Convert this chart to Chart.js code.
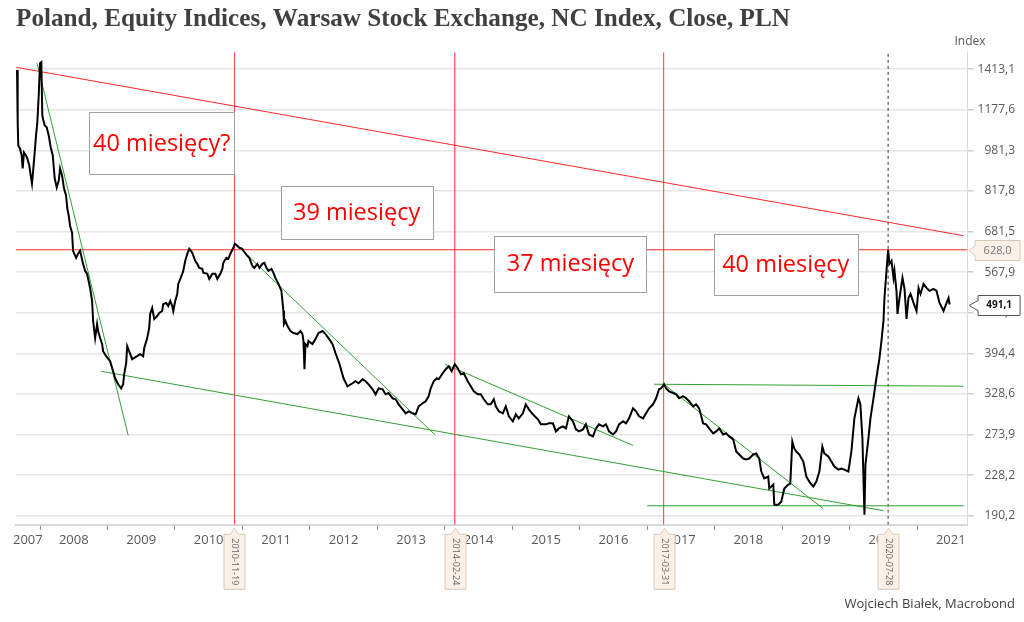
<html>
<head>
<meta charset="utf-8">
<style>
    body { margin: 0; background: #fff; }
</style>
<script src="https://cdn.jsdelivr.net/npm/chart.js@4.4.0/dist/chart.umd.min.js"></script>
<script>
    // NC Index close (decimal years / index points)
    var dates = [
        2007.659, 2007.669, 2007.678, 2007.703, 2007.728, 2007.743, 2007.762, 2007.792, 2007.811, 2007.841,
        2007.862, 2007.881, 2007.901, 2007.921, 2007.941, 2007.960, 2007.981, 2008.000, 2008.019, 2008.034,
        2008.049, 2008.070, 2008.099, 2008.129, 2008.159, 2008.189, 2008.218, 2008.248, 2008.278, 2008.297,
        2008.327, 2008.356, 2008.386, 2008.405, 2008.426, 2008.445, 2008.475, 2008.490, 2008.535, 2008.564,
        2008.594, 2008.638, 2008.668, 2008.698, 2008.742, 2008.772, 2008.787, 2008.817, 2008.846, 2008.861,
        2008.891, 2008.921, 2008.935, 2008.980, 2009.039, 2009.084, 2009.114, 2009.158, 2009.203, 2009.232,
        2009.247, 2009.277, 2009.292, 2009.321, 2009.366, 2009.440, 2009.485, 2009.529, 2009.544, 2009.589,
        2009.618, 2009.633, 2009.663, 2009.693, 2009.737, 2009.767, 2009.811, 2009.826, 2009.871, 2009.901,
        2009.930, 2009.960, 2009.975, 2010.004, 2010.034, 2010.049, 2010.079, 2010.108, 2010.123, 2010.153,
        2010.183, 2010.212, 2010.257, 2010.301, 2010.331, 2010.361, 2010.405, 2010.420, 2010.480, 2010.509,
        2010.554, 2010.598, 2010.628, 2010.673, 2010.702, 2010.717, 2010.762, 2010.791, 2010.821, 2010.866,
        2010.888, 2010.925, 2010.955, 2010.999, 2011.014, 2011.073, 2011.103, 2011.148, 2011.177, 2011.222,
        2011.252, 2011.296, 2011.326, 2011.356, 2011.385, 2011.430, 2011.460, 2011.489, 2011.534, 2011.578,
        2011.608, 2011.616, 2011.638, 2011.668, 2011.712, 2011.757, 2011.816, 2011.860, 2011.890, 2011.905,
        2011.920, 2011.935, 2011.964, 2011.979, 2012.039, 2012.083, 2012.128, 2012.187, 2012.232, 2012.276,
        2012.336, 2012.380, 2012.440, 2012.499, 2012.558, 2012.633, 2012.677, 2012.722, 2012.781, 2012.826,
        2012.870, 2012.930, 2012.974, 2013.019, 2013.078, 2013.123, 2013.167, 2013.227, 2013.271, 2013.316,
        2013.375, 2013.420, 2013.464, 2013.524, 2013.568, 2013.613, 2013.672, 2013.717, 2013.761, 2013.791,
        2013.836, 2013.880, 2013.910, 2013.969, 2014.014, 2014.058, 2014.103, 2014.148, 2014.192, 2014.237,
        2014.281, 2014.340, 2014.385, 2014.430, 2014.489, 2014.533, 2014.578, 2014.637, 2014.682, 2014.726,
        2014.756, 2014.800, 2014.860, 2014.904, 2014.949, 2015.008, 2015.053, 2015.097, 2015.157, 2015.201,
        2015.246, 2015.305, 2015.380, 2015.424, 2015.498, 2015.543, 2015.602, 2015.647, 2015.691, 2015.751,
        2015.795, 2015.840, 2015.899, 2015.944, 2015.988, 2016.048, 2016.092, 2016.137, 2016.196, 2016.241,
        2016.285, 2016.345, 2016.389, 2016.434, 2016.493, 2016.538, 2016.582, 2016.642, 2016.686, 2016.731,
        2016.790, 2016.835, 2016.879, 2016.939, 2016.983, 2017.028, 2017.087, 2017.132, 2017.176, 2017.206,
        2017.250, 2017.280, 2017.325, 2017.384, 2017.428, 2017.473, 2017.532, 2017.577, 2017.621, 2017.681,
        2017.725, 2017.770, 2017.829, 2017.874, 2017.918, 2017.978, 2018.022, 2018.067, 2018.126, 2018.171,
        2018.215, 2018.275, 2018.319, 2018.364, 2018.423, 2018.468, 2018.512, 2018.572, 2018.616, 2018.661,
        2018.691, 2018.735, 2018.794, 2018.809, 2018.869, 2018.884, 2018.943, 2018.987, 2019.032, 2019.091,
        2019.121, 2019.151, 2019.180, 2019.210, 2019.255, 2019.314, 2019.359, 2019.403, 2019.462, 2019.507,
        2019.552, 2019.596, 2019.626, 2019.685, 2019.730, 2019.774, 2019.834, 2019.878, 2019.923, 2019.982,
        2020.027, 2020.071, 2020.131, 2020.160, 2020.190, 2020.220, 2020.235, 2020.279, 2020.309, 2020.354,
        2020.383, 2020.413, 2020.443, 2020.472, 2020.502, 2020.517, 2020.547, 2020.571, 2020.591, 2020.621,
        2020.651, 2020.665, 2020.695, 2020.710, 2020.740, 2020.784, 2020.814, 2020.844, 2020.873, 2020.903,
        2020.948, 2020.992, 2021.022, 2021.051, 2021.096, 2021.140, 2021.185, 2021.244, 2021.289, 2021.333,
        2021.393, 2021.437, 2021.467, 2021.482
    ];
    var values = [
        1408, 1113, 1003.5, 990, 959.4, 904.8, 972.5, 959.4, 946.5, 917.1,
        876.6, 845.5, 904.8, 972.5, 1049.7, 1113, 1257.2, 1452, 1458.8, 1148.9,
        1123.2, 1098.1, 1088.4, 1049.7, 994.5, 959.4, 864.8, 830.4, 857.1, 904.8,
        876.6, 826.7, 801.2, 755.5, 731.9, 699.7, 678.1, 625.2, 605.7, 616.8,
        625.2, 589.5, 571.2, 563.7, 529.1, 499.0, 456.0, 422.4, 449.9, 435.9,
        422.4, 411.1, 398.3, 389.4, 380.7, 363.9, 352.6, 343.2, 337.1, 343.2,
        359.0, 377.3, 407.4, 398.3, 384.2, 389.4, 392.9, 389.4, 403.7, 422.4,
        441.8, 470.7, 483.5, 460.2, 466.4, 472.8, 477.0, 492.3, 494.6, 487.9,
        499.0, 487.9, 477.0, 499.0, 515.0, 538.8, 551.0, 563.7, 571.2, 597.6,
        616.8, 630.8, 619.5, 597.6, 589.5, 579.0, 576.4, 566.3, 563.7, 551.0,
        563.7, 563.7, 551.0, 563.7, 576.4, 592.2, 605.7, 603.0, 616.8, 633.7,
        645.3, 639.5, 633.7, 630.8, 625.2, 611.2, 605.7, 584.2, 579.0, 589.5,
        579.0, 589.5, 592.2, 579.0, 571.2, 576.4, 566.3, 553.6, 538.8, 522.1,
        477.0, 449.9, 456.0, 445.8, 435.9, 432.0, 430.1, 435.9, 430.1, 416.7,
        367.2, 411.1, 407.4, 416.7, 411.1, 420.5, 432.0, 435.9, 430.1, 422.4,
        411.1, 394.8, 375.6, 352.6, 340.1, 344.8, 347.9, 344.8, 351.0, 347.9,
        343.2, 335.6, 328.1, 337.1, 335.6, 328.1, 330.0, 322.3, 320.9, 313.7,
        306.7, 301.3, 304.0, 301.3, 299.9, 310.9, 315.2, 318.0, 325.3, 337.1,
        347.9, 352.6, 351.0, 360.7, 367.2, 372.2, 363.9, 375.6, 368.9, 359.0,
        360.7, 347.9, 340.1, 332.5, 328.1, 328.1, 320.9, 313.7, 313.7, 320.9,
        310.9, 304.0, 301.3, 310.9, 297.2, 290.6, 299.9, 294.5, 301.3, 313.7,
        306.7, 299.9, 293.2, 286.7, 286.7, 288.0, 288.0, 277.8, 281.5, 284.1,
        281.5, 297.2, 290.6, 280.3, 277.8, 280.3, 286.7, 273.9, 271.6, 281.5,
        286.7, 284.1, 286.7, 277.8, 273.9, 277.8, 286.7, 290.6, 288.0, 294.5,
        308.1, 304.0, 297.2, 294.5, 301.3, 308.1, 313.7, 322.3, 335.6, 337.1,
        343.2, 337.1, 332.5, 330.0, 328.1, 322.3, 325.3, 322.3, 318.0, 310.9,
        313.7, 308.1, 288.0, 286.7, 281.5, 275.3, 277.8, 281.5, 273.9, 275.3,
        271.6, 268.0, 253.8, 250.4, 245.9, 244.8, 245.9, 250.4, 251.5, 245.9,
        231.9, 224.8, 226.8, 214.9, 218.8, 199.9, 199.9, 202.6, 214.9, 218.8,
        219.7, 265.5, 257.3, 253.8, 250.4, 242.6, 226.8, 221.7, 216.8, 221.7,
        231.9, 259.6, 251.5, 248.1, 242.6, 237.2, 234.0, 235.1, 234.0, 231.9,
        253.8, 294.5, 322.3, 313.7, 269.2, 191.1, 239.4, 269.2, 294.5, 322.3,
        343.2, 363.9, 385.9, 416.7, 456.0, 505.9, 571.2, 628.0, 589.5, 597.6,
        553.6, 571.2, 522.1, 470.7, 505.9, 553.6, 526.8, 460.2, 505.9, 515.0,
        494.6, 477.0, 529.1, 515.0, 538.8, 529.1, 522.1, 526.8, 522.1, 494.6,
        477.0, 494.6, 505.9, 491.1
    ];

    // axis ticks
    var yTicks = [190.2, 228.2, 273.9, 328.6, 394.4, 473.3, 567.9, 681.5, 817.8, 981.3, 1177.6, 1413.1];
    var yearBounds = [2008, 2009, 2010, 2011, 2012, 2013, 2014, 2015, 2016, 2017, 2018, 2019, 2020, 2021];
    var yearLabels = ['2007', '2008', '2009', '2010', '2011', '2012', '2013', '2014', '2015', '2016', '2017', '2018', '2019', '2020', '2021'];
    var yearLabelAt = [2007.82, 2008.5, 2009.5, 2010.5, 2011.5, 2012.5, 2013.5, 2014.5, 2015.5, 2016.5, 2017.5, 2018.5, 2019.5, 2020.5, 2021.5];

    var xMin = 2007.644, xMax = 2021.749;
    var yMin = 182.6, yMax = 1525;

    // trend lines (start x, start y, end x, end y)
    var redTrendX = [2007.65, 2021.69];
    var redTrendY = [1425, 669];
    var levelLine = 628.0;
    var greenX1 = [2007.955, 2008.906, 2010.895, 2014.0, 2017.10, 2017.25, 2017.0];
    var greenY1 = [1452, 363.9, 645.4, 375.7, 343.3, 343.0, 198.9];
    var greenX2 = [2009.307, 2020.502, 2013.85, 2016.79, 2021.69, 2019.61, 2021.69];
    var greenY2 = [272.8, 194.5, 273.9, 260.8, 340.3, 196.3, 198.9];

    // vertical date markers
    var markerDates = [2010.882, 2014.148, 2017.244, 2020.571];
    var markerLabels = ['2010-11-19', '2014-02-24', '2017-03-31', '2020-07-28'];
    var markerColors = ['rgb(255,60,60)', 'rgb(255,40,40)', 'rgb(255,60,60)', '#333333'];
    var markerDashed = [false, false, false, true];

    // text boxes
    var boxTexts = ['40 miesięcy?', '39 miesięcy', '37 miesięcy', '40 miesięcy'];
    var boxX = [2009.804, 2012.692, 2015.862, 2019.054];
    var boxY = [1014.8, 742.0, 590.1, 588.7];
    var boxW = [145, 152, 152, 144];
    var boxH = [62, 53, 56, 61];

    var lastValue = 491.1;

    function fmt(v) {
        return v.toFixed(1).replace('.', ',');
    }

    function draw_chart() {
        var series = dates.map(function (d, i) { return {x: d, y: values[i]}; });
        var datasets = [{
            data: series, borderColor: '#000', borderWidth: 2, pointRadius: 0, order: 0
        }];

        for (var i = 0; i < greenX1.length; i++) {
            datasets.push({
                data: [{x: greenX1[i], y: greenY1[i]}, {x: greenX2[i], y: greenY2[i]}],
                borderColor: 'rgb(50,160,50)', borderWidth: 1, pointRadius: 0, order: 2
            });
        }
        datasets.push({
            data: [{x: redTrendX[0], y: redTrendY[0]}, {x: redTrendX[1], y: redTrendY[1]}],
            borderColor: 'rgb(255,40,40)', borderWidth: 1, pointRadius: 0, order: 2
        });
        datasets.push({
            data: [{x: xMin, y: levelLine}, {x: xMax, y: levelLine}],
            borderColor: 'rgb(255,40,40)', borderWidth: 1, pointRadius: 0, order: 2
        });
        for (var j = 0; j < markerDates.length; j++) {
            var ds = {
                data: [{x: markerDates[j], y: yMin}, {x: markerDates[j], y: yMax}],
                borderColor: markerColors[j],
                borderWidth: 1, pointRadius: 0, order: 3
            };
            if (markerDashed[j]) ds.borderDash = [3, 3];
            datasets.push(ds);
        }

        var annotate = {
            id: 'annotate',
            afterDatasetsDraw: function (chart) {
                var c = chart.ctx, xs = chart.scales.x, ys = chart.scales.y;
                c.save();
                c.setLineDash([]);
                for (var i = 0; i < boxTexts.length; i++) {
                    var cx = xs.getPixelForValue(boxX[i]), cy = ys.getPixelForValue(boxY[i]);
                    var l = Math.round(cx - boxW[i] / 2) + 0.5, t = Math.round(cy - boxH[i] / 2) + 0.5;
                    c.fillStyle = '#fff';
                    c.fillRect(l, t, boxW[i], boxH[i]);
                    c.strokeStyle = '#a0a0a0';
                    c.lineWidth = 1;
                    c.strokeRect(l, t, boxW[i], boxH[i]);
                    c.fillStyle = '#ff0000';
                    c.font = '23.5px "Open Sans"';
                    c.textAlign = 'center';
                    c.textBaseline = 'middle';
                    c.fillText(boxTexts[i], cx, cy + 1);
                }
                c.restore();
            },
            afterDraw: function (chart) {
                var c = chart.ctx, xs = chart.scales.x, ys = chart.scales.y, area = chart.chartArea;
                c.save();
                c.setLineDash([]);
                // date labels under the axis
                for (var i = 0; i < markerDates.length; i++) {
                    var px = Math.round(xs.getPixelForValue(markerDates[i])) + 0.5;
                    var top = area.bottom + 9.5, w = 21, h = 55;
                    c.beginPath();
                    c.moveTo(px - w / 2, top);
                    c.lineTo(px - 4, top);
                    c.lineTo(px, top - 6);
                    c.lineTo(px + 4, top);
                    c.lineTo(px + w / 2, top);
                    c.lineTo(px + w / 2, top + h);
                    c.lineTo(px - w / 2, top + h);
                    c.closePath();
                    c.fillStyle = '#fbf1e8';
                    c.fill();
                    c.strokeStyle = '#d9c7b6';
                    c.lineWidth = 1;
                    c.stroke();
                    c.save();
                    c.translate(px, top + h / 2);
                    c.rotate(Math.PI / 2);
                    c.fillStyle = '#666';
                    c.font = '9px "Open Sans"';
                    c.textAlign = 'center';
                    c.textBaseline = 'middle';
                    c.fillText(markerLabels[i], 0, 0);
                    c.restore();
                }
                // value labels at the right axis
                var tags = [
                    {v: levelLine, fill: '#fbf1e8', stroke: '#d9c7b6', color: '#777', font: '11px "Open Sans"', left: 7, w: 45},
                    {v: lastValue, fill: '#fff', stroke: '#555', color: '#111', font: 'bold 10px "Open Sans"', left: 10, w: 42}
                ];
                tags.forEach(function (t) {
                    var py = Math.round(ys.getPixelForValue(t.v)) + 0.5;
                    var x0 = area.right + 1.5, l = area.right + t.left + 0.5, hh = 10;
                    c.beginPath();
                    c.moveTo(x0, py);
                    c.lineTo(l, py - 5);
                    c.lineTo(l, py - hh);
                    c.lineTo(l + t.w, py - hh);
                    c.lineTo(l + t.w, py + hh);
                    c.lineTo(l, py + hh);
                    c.lineTo(l, py + 5);
                    c.closePath();
                    c.fillStyle = t.fill;
                    c.fill();
                    c.strokeStyle = t.stroke;
                    c.lineWidth = 1;
                    c.stroke();
                    c.fillStyle = t.color;
                    c.font = t.font;
                    c.textAlign = 'center';
                    c.textBaseline = 'middle';
                    c.fillText(fmt(t.v), l + t.w / 2, py);
                });
                // unit label
                c.fillStyle = '#595959';
                c.font = '12px "Open Sans"';
                c.textAlign = 'right';
                c.textBaseline = 'middle';
                c.fillText('Index', area.right + 18, 42);
                c.restore();
            }
        };

        var ctx = document.getElementById('myChart').getContext('2d');
        var chart = new Chart(ctx, {
            type: 'line',
            data: { datasets: datasets },
            plugins: [annotate],
            options: {
                responsive: false,
                animation: false,
                devicePixelRatio: 1,
                layout: { padding: { left: 16, right: 9, top: 0, bottom: 8 } },
                plugins: {
                    legend: { display: false },
                    tooltip: { enabled: false },
                    title: {
                        display: true,
                        text: 'Poland, Equity Indices, Warsaw Stock Exchange, NC Index, Close, PLN',
                        align: 'start',
                        color: '#404040',
                        font: { family: '"Liberation Serif"', size: 25.2, weight: 'bold' },
                        padding: { top: 4, bottom: 18 },
                        fullSize: true
                    },
                    subtitle: {
                        display: true,
                        position: 'bottom',
                        align: 'end',
                        text: 'Wojciech Białek, Macrobond',
                        color: '#404040',
                        font: { family: '"Open Sans"', size: 13 },
                        padding: { top: 45, bottom: 2 }
                    }
                },
                scales: {
                    x: {
                        type: 'linear',
                        min: xMin,
                        max: xMax,
                        afterBuildTicks: function (scale) {
                            var all = yearBounds.concat(yearLabelAt).sort(function (a, b) { return a - b; });
                            scale.ticks = all.map(function (v) { return {value: v}; });
                        },
                        ticks: {
                            autoSkip: false,
                            maxRotation: 0,
                            minRotation: 0,
                            padding: 3,
                            color: '#595959',
                            font: { family: '"Open Sans"', size: 13 },
                            callback: function (value) {
                                var k = yearLabelAt.indexOf(value);
                                return k >= 0 ? yearLabels[k] : '';
                            }
                        },
                        grid: {
                            drawOnChartArea: false,
                            tickLength: 5,
                            tickColor: function (c) {
                                return c.tick && yearBounds.indexOf(c.tick.value) >= 0 ? '#8c8c8c' : 'rgba(0,0,0,0)';
                            }
                        },
                        border: { display: true, color: '#d9d9d9', width: 2 }
                    },
                    y: {
                        type: 'logarithmic',
                        position: 'right',
                        min: yMin,
                        max: yMax,
                        afterBuildTicks: function (scale) {
                            scale.ticks = yTicks.map(function (v) { return {value: v}; });
                        },
                        ticks: {
                            padding: 2,
                            crossAlign: 'far',
                            color: '#595959',
                            font: { family: '"Open Sans"', size: 12 },
                            callback: function (value) { return fmt(value); }
                        },
                        grid: {
                            color: '#e6e6e6',
                            lineWidth: 1.5,
                            tickLength: 6,
                            tickColor: '#cfcfcf'
                        },
                        border: { display: true, color: '#d9d9d9', width: 1 }
                    }
                }
            }
        });
    }
</script>
</head>
<body>
<canvas id="myChart" width="1024" height="622"></canvas>
<script>draw_chart();</script>
</body>
</html>
